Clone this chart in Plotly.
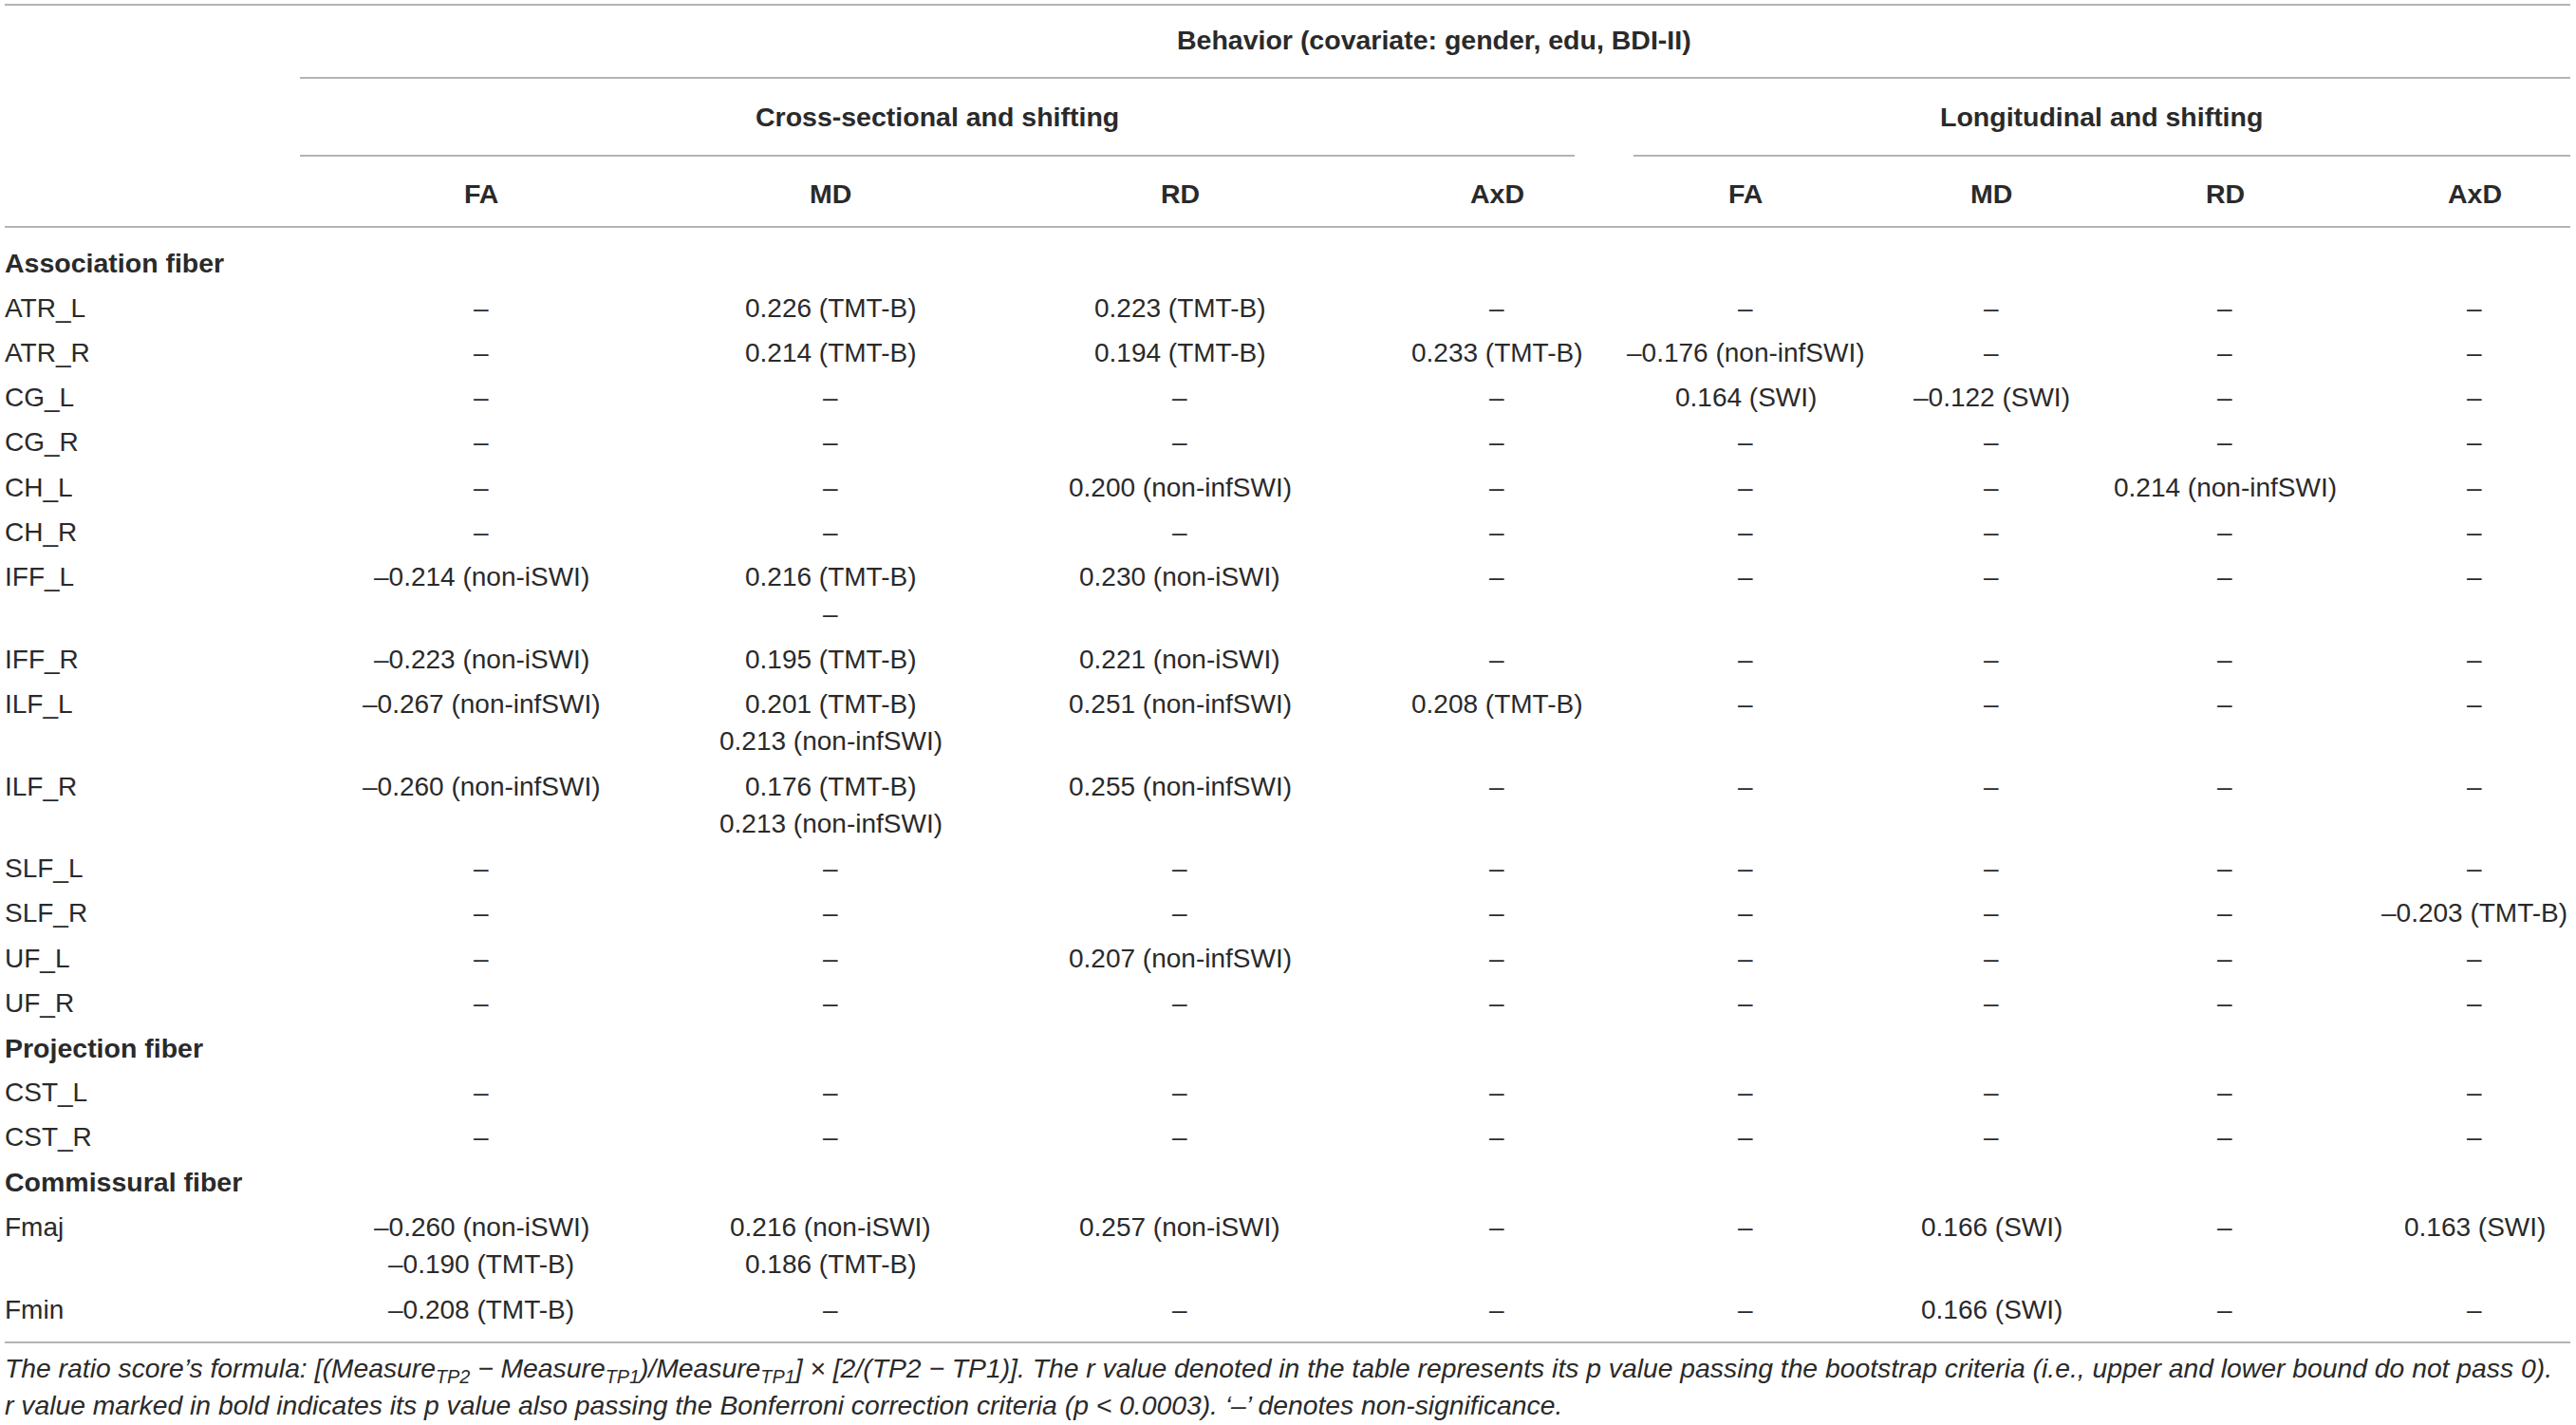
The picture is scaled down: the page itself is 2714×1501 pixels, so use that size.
import plotly.graph_objects as go

# ---------------- data ----------------
title = "Behavior (covariate: gender, edu, BDI-II)"
groups = ["Cross-sectional and shifting", "Longitudinal and shifting"]
measures = ["FA", "MD", "RD", "AxD", "FA", "MD", "RD", "AxD"]

D = "\u2013"  # en dash used for non-significance and minus sign

sections = ["Association fiber", "Projection fiber", "Commissural fiber"]

assoc_rows = ["ATR_L", "ATR_R", "CG_L", "CG_R", "CH_L", "CH_R", "IFF_L", "IFF_R",
              "ILF_L", "ILF_R", "SLF_L", "SLF_R", "UF_L", "UF_R"]
proj_rows = ["CST_L", "CST_R"]
comm_rows = ["Fmaj", "Fmin"]

cells = {
    "ATR_L": [D, "0.226 (TMT-B)", "0.223 (TMT-B)", D, D, D, D, D],
    "ATR_R": [D, "0.214 (TMT-B)", "0.194 (TMT-B)", "0.233 (TMT-B)", D + "0.176 (non-infSWI)", D, D, D],
    "CG_L": [D, D, D, D, "0.164 (SWI)", D + "0.122 (SWI)", D, D],
    "CG_R": [D, D, D, D, D, D, D, D],
    "CH_L": [D, D, "0.200 (non-infSWI)", D, D, D, "0.214 (non-infSWI)", D],
    "CH_R": [D, D, D, D, D, D, D, D],
    "IFF_L": [D + "0.214 (non-iSWI)", "0.216 (TMT-B)\n" + D, "0.230 (non-iSWI)", D, D, D, D, D],
    "IFF_R": [D + "0.223 (non-iSWI)", "0.195 (TMT-B)", "0.221 (non-iSWI)", D, D, D, D, D],
    "ILF_L": [D + "0.267 (non-infSWI)", "0.201 (TMT-B)\n0.213 (non-infSWI)", "0.251 (non-infSWI)",
              "0.208 (TMT-B)", D, D, D, D],
    "ILF_R": [D + "0.260 (non-infSWI)", "0.176 (TMT-B)\n0.213 (non-infSWI)", "0.255 (non-infSWI)",
              D, D, D, D, D],
    "SLF_L": [D, D, D, D, D, D, D, D],
    "SLF_R": [D, D, D, D, D, D, D, D + "0.203 (TMT-B)"],
    "UF_L": [D, D, "0.207 (non-infSWI)", D, D, D, D, D],
    "UF_R": [D, D, D, D, D, D, D, D],
    "CST_L": [D, D, D, D, D, D, D, D],
    "CST_R": [D, D, D, D, D, D, D, D],
    "Fmaj": [D + "0.260 (non-iSWI)\n" + D + "0.190 (TMT-B)", "0.216 (non-iSWI)\n0.186 (TMT-B)",
             "0.257 (non-iSWI)", D, D, "0.166 (SWI)", D, "0.163 (SWI)"],
    "Fmin": [D + "0.208 (TMT-B)", D, D, D, D, "0.166 (SWI)", D, D],
}

footnote_1 = ("The ratio score\u2019s formula: [(Measure<sub>TP2</sub> \u2212 Measure<sub>TP1</sub>)/"
              "Measure<sub>TP1</sub>] \u00d7 [2/(TP2 \u2212 TP1)]. The r value denoted in the table "
              "represents its p value passing the bootstrap criteria (i.e., upper and lower bound do not pass 0).")
footnote_2 = ("r value marked in bold indicates its p value also passing the Bonferroni correction "
              "criteria (p &lt; 0.0003). \u2018\u2013\u2019 denotes non-significance.")

# ---------------- layout ----------------
W, H = 2714, 1501
FONT = "Liberation Sans, Arial, Helvetica, sans-serif"
FS = 28
FS_B = 28.5
FS_N = 28.3
TXT = "#2a2a2a"
LINE = "#9b9b9b"

col_x = [507, 875, 1243, 1577, 1839, 2098, 2344, 2607]
left_x = 3
right_x = 2708

fig = go.Figure()
ann = []
shapes = []


def text(x, y, s, bold=False, italic=False, anchor="center", size=FS):
    if bold:
        s = "<b>" + s + "</b>"
    if italic:
        s = "<i>" + s + "</i>"
    ann.append(dict(x=x, y=y, xref="x", yref="y", text=s, showarrow=False,
                    xanchor=anchor, yanchor="middle",
                    font=dict(family=FONT, size=size, color=TXT)))


def hline(x0, x1, y):
    shapes.append(dict(type="line", xref="x", yref="y", x0=x0, x1=x1, y0=y, y1=y,
                       line=dict(color=LINE, width=1.6)))


# header
hline(5, right_x, 5)
text(1511, 42, title, bold=True, size=FS_B)
hline(316, right_x, 82)
text(987, 123, groups[0], bold=True, size=FS_B)
text(2214, 123, groups[1], bold=True, size=FS_B)
hline(316, 1659, 164)
hline(1721, right_x, 164)
for x, m in zip(col_x, measures):
    text(x, 204, m, bold=True, size=FS_B)
hline(5, right_x, 239)

# body
ROW = 47.2
SUB = 39.5
y = 277
body = [(sections[0], assoc_rows), (sections[1], proj_rows), (sections[2], comm_rows)]
for sec, rows in body:
    text(left_x, y, sec, bold=True, anchor="left", size=FS_B)
    y += ROW
    for r in rows:
        text(left_x, y, r, anchor="left")
        nlines = 1
        for x, c in zip(col_x, cells[r]):
            parts = c.split("\n")
            nlines = max(nlines, len(parts))
            for k, p in enumerate(parts):
                text(x, y + k * SUB, p)
        y += ROW + (nlines - 1) * SUB

hline(5, right_x, 1414)
text(left_x, 1443, footnote_1, italic=True, anchor="left", size=FS_N)
text(left_x, 1480, footnote_2, italic=True, anchor="left", size=FS_N)

fig.update_layout(
    width=W, height=H,
    margin=dict(l=0, r=0, t=0, b=0),
    paper_bgcolor="white", plot_bgcolor="white",
    xaxis=dict(range=[0, W], visible=False, fixedrange=True),
    yaxis=dict(range=[H, 0], visible=False, fixedrange=True),
    annotations=ann, shapes=shapes, showlegend=False,
)
fig.write_html(
    "out.html",
    config={"displayModeBar": False},
    post_script="document.body.style.margin='0';document.body.style.overflow='hidden';",
)
